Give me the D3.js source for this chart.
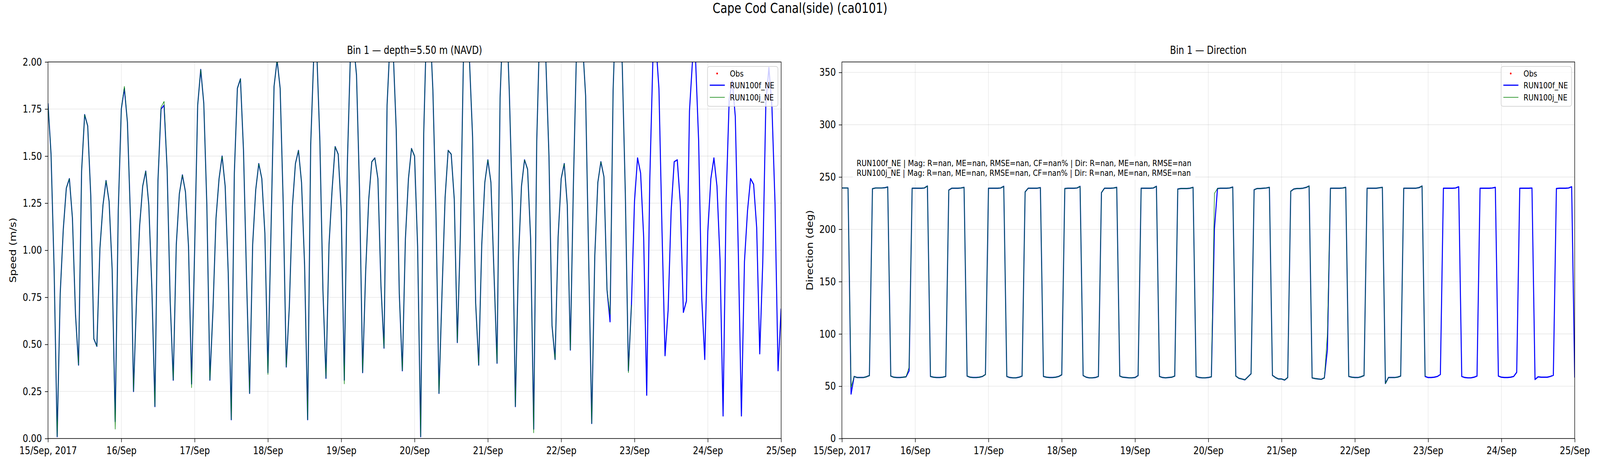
<!DOCTYPE html>
<html>
<head>
<meta charset="utf-8">
<script src="https://cdn.jsdelivr.net/npm/d3@7"></script>
<style>
html, body { margin: 0; padding: 0; width: 100%; height: 100%; overflow: hidden; background: #fff; }
svg { display: block; }
</style>
</head>
<body>
<script>
var figTitle = "Cape Cod Canal(side) (ca0101)";
var startTime = Date.UTC(2017, 8, 15, 0); // hourly series from here

var dayLabels = ["15/Sep, 2017", "16/Sep", "17/Sep", "18/Sep", "19/Sep", "20/Sep",
    "21/Sep", "22/Sep", "23/Sep", "24/Sep", "25/Sep"];
var speedTicks = [0, 0.25, 0.5, 0.75, 1, 1.25, 1.5, 1.75, 2];
var dirTicks = [0, 50, 100, 150, 200, 250, 300, 350];
var legendNames = ["Obs", "RUN100f_NE", "RUN100j_NE"];
var statLines = [
    "RUN100f_NE | Mag: R=nan, ME=nan, RMSE=nan, CF=nan% | Dir: R=nan, ME=nan, RMSE=nan",
    "RUN100j_NE | Mag: R=nan, ME=nan, RMSE=nan, CF=nan% | Dir: R=nan, ME=nan, RMSE=nan"
];

// speed (m/s), one row per day
var speedF = [
    1.78, 1.51, 0.90, 0.01, 0.77, 1.11, 1.33, 1.38, 1.17, 0.66, 0.39, 1.42, 1.72, 1.66, 1.29, 0.53, 0.49, 1.01, 1.24, 1.37, 1.26, 0.90, 0.09, 1.21,
    1.75, 1.86, 1.68, 1.17, 0.25, 0.75, 1.13, 1.34, 1.42, 1.24, 0.80, 0.17, 1.37, 1.75, 1.77, 1.43, 0.73, 0.31, 1.03, 1.30, 1.40, 1.31, 1.02, 0.29,
    1.00, 1.77, 1.96, 1.78, 1.24, 0.31, 0.68, 1.17, 1.38, 1.50, 1.34, 0.88, 0.10, 1.41, 1.86, 1.91, 1.53, 0.85, 0.24, 1.03, 1.32, 1.46, 1.38, 1.09,
    0.35, 1.10, 1.87, 2.01, 1.86, 1.25, 0.38, 0.70, 1.23, 1.46, 1.53, 1.36, 0.92, 0.10, 1.56, 2.03, 2.05, 1.58, 0.79, 0.32, 1.03, 1.32, 1.55, 1.51,
    1.21, 0.31, 1.46, 2.04, 2.10, 1.93, 1.31, 0.35, 0.89, 1.27, 1.47, 1.49, 1.38, 0.81, 0.48, 1.77, 2.12, 2.06, 1.64, 0.77, 0.36, 1.06, 1.38, 1.54,
    1.50, 1.02, 0.01, 1.62, 2.25, 2.22, 1.85, 1.20, 0.24, 0.78, 1.28, 1.53, 1.51, 1.27, 0.51, 1.08, 2.02, 2.20, 2.00, 1.60, 0.72, 0.39, 1.03, 1.36,
    1.48, 1.36, 0.88, 0.40, 1.81, 2.25, 2.30, 1.85, 1.25, 0.17, 0.94, 1.34, 1.48, 1.43, 1.06, 0.05, 1.58, 2.20, 2.25, 2.00, 1.50, 0.60, 0.42, 1.07,
    1.38, 1.46, 1.24, 0.47, 1.35, 2.05, 2.30, 2.10, 1.82, 0.95, 0.08, 0.97, 1.36, 1.47, 1.39, 0.79, 0.62, 1.85, 2.35, 2.30, 1.98, 1.30, 0.36, 0.71,
    1.26, 1.49, 1.41, 1.07, 0.23, 1.37, 2.00, 2.10, 1.86, 1.11, 0.44, 0.68, 1.21, 1.47, 1.48, 1.25, 0.67, 0.73, 1.74, 2.01, 2.01, 1.58, 0.75, 0.42,
    1.10, 1.38, 1.49, 1.34, 0.95, 0.12, 1.27, 1.80, 1.90, 1.71, 0.98, 0.12, 0.94, 1.21, 1.38, 1.35, 1.12, 0.45, 0.94, 1.78, 1.97, 1.76, 1.25, 0.36,
    0.69
];
var speedJ = [
    1.78, 1.51, 0.90, 0.01, 0.77, 1.11, 1.33, 1.38, 1.17, 0.66, 0.39, 1.42, 1.72, 1.66, 1.29, 0.53, 0.49, 1.01, 1.24, 1.37, 1.26, 0.90, 0.05, 1.21,
    1.75, 1.87, 1.68, 1.17, 0.25, 0.75, 1.13, 1.34, 1.42, 1.24, 0.80, 0.17, 1.37, 1.76, 1.79, 1.43, 0.73, 0.31, 1.03, 1.30, 1.40, 1.31, 1.02, 0.27,
    1.00, 1.77, 1.96, 1.78, 1.24, 0.31, 0.68, 1.17, 1.38, 1.50, 1.34, 0.88, 0.10, 1.41, 1.86, 1.91, 1.53, 0.85, 0.24, 1.03, 1.32, 1.46, 1.38, 1.09,
    0.34, 1.10, 1.87, 2.01, 1.86, 1.25, 0.38, 0.70, 1.23, 1.46, 1.53, 1.36, 0.92, 0.10, 1.56, 2.03, 2.05, 1.58, 0.79, 0.32, 1.03, 1.32, 1.55, 1.51,
    1.21, 0.29, 1.46, 2.04, 2.10, 1.93, 1.31, 0.35, 0.89, 1.27, 1.47, 1.49, 1.38, 0.81, 0.48, 1.77, 2.12, 2.06, 1.64, 0.77, 0.36, 1.06, 1.38, 1.54,
    1.50, 1.02, 0.01, 1.62, 2.25, 2.22, 1.85, 1.20, 0.24, 0.78, 1.28, 1.53, 1.51, 1.27, 0.51, 1.08, 2.02, 2.20, 2.00, 1.60, 0.72, 0.39, 1.03, 1.36,
    1.48, 1.36, 0.88, 0.40, 1.81, 2.25, 2.30, 1.85, 1.25, 0.17, 0.94, 1.34, 1.48, 1.43, 1.06, 0.03, 1.58, 2.20, 2.25, 2.00, 1.50, 0.60, 0.42, 1.07,
    1.38, 1.46, 1.24, 0.47, 1.35, 2.05, 2.30, 2.10, 1.82, 0.95, 0.08, 0.97, 1.36, 1.47, 1.39, 0.79, 0.66, 1.85, 2.35, 2.30, 1.98, 1.30, 0.35, 0.71
];

// direction (deg), one row per day
var dirF = [
    239.5, 239.5, 239.5, 42.5, 59.3, 58.3, 58.3, 58.3, 59.0, 60.2, 238.8, 239.5, 239.5, 239.5, 239.7, 240.5, 59.7, 58.6, 58.3, 58.3, 58.6, 59.0, 64.7, 239.3,
    239.3, 239.3, 239.3, 239.5, 241.4, 59.3, 58.6, 58.3, 58.3, 58.6, 59.3, 237.5, 239.3, 239.3, 239.3, 239.5, 240.1, 59.7, 58.6, 58.3, 58.3, 58.6, 59.3, 61.2,
    239.3, 239.3, 239.3, 239.3, 239.5, 241.1, 59.3, 58.3, 58.0, 58.0, 58.6, 59.7, 235.7, 239.3, 239.3, 239.3, 239.3, 239.8, 59.3, 58.6, 58.3, 58.3, 58.6, 59.3,
    60.9, 239.0, 239.3, 239.3, 239.3, 239.5, 241.0, 60.2, 58.6, 58.0, 58.0, 58.3, 59.3, 235.0, 239.3, 239.3, 239.3, 239.5, 240.1, 59.7, 58.6, 58.3, 58.0, 58.0,
    58.3, 60.2, 239.3, 239.3, 239.3, 239.3, 239.5, 241.1, 59.3, 58.3, 58.0, 58.3, 58.6, 59.7, 238.5, 239.0, 239.0, 239.0, 239.3, 240.1, 59.3, 58.3, 58.0, 58.0,
    58.3, 59.0, 200.6, 239.0, 239.3, 239.3, 239.3, 239.5, 240.4, 59.7, 57.6, 56.9, 56.1, 59.0, 61.9, 237.8, 239.0, 239.0, 239.3, 239.5, 240.1, 60.4, 58.3, 56.9,
    56.9, 55.9, 58.3, 236.4, 238.5, 239.0, 239.0, 239.3, 240.0, 241.4, 57.9, 57.3, 56.9, 56.6, 57.9, 85.0, 239.3, 239.3, 239.3, 239.3, 239.5, 240.1, 59.3, 58.6,
    58.3, 58.3, 59.0, 60.2, 239.3, 239.3, 239.3, 239.3, 239.7, 240.1, 52.6, 58.3, 58.3, 58.3, 58.7, 59.7, 239.3, 239.3, 239.3, 239.3, 239.3, 239.8, 241.4, 59.3,
    58.3, 58.3, 58.6, 59.3, 61.2, 239.3, 239.3, 239.3, 239.3, 239.5, 240.7, 59.3, 58.3, 58.0, 58.0, 58.6, 59.7, 239.3, 239.3, 239.3, 239.3, 239.5, 240.1, 59.7,
    58.6, 58.3, 58.3, 58.6, 59.3, 63.3, 239.3, 239.3, 239.3, 239.3, 239.5, 56.4, 59.0, 58.6, 58.6, 58.6, 59.3, 60.4, 239.0, 239.3, 239.3, 239.3, 239.5, 240.7,
    58.3
];
var dirJ = [
    239.5, 239.5, 239.5, 49.0, 59.3, 58.3, 58.3, 58.3, 59.0, 60.2, 238.8, 239.5, 239.5, 239.5, 239.7, 240.5, 59.7, 58.6, 58.3, 58.3, 58.6, 59.0, 68.3, 239.3,
    239.3, 239.3, 239.3, 239.5, 241.4, 59.3, 58.6, 58.3, 58.3, 58.6, 59.3, 237.5, 239.3, 239.3, 239.3, 239.5, 240.1, 59.7, 58.6, 58.3, 58.3, 58.6, 59.3, 61.2,
    239.3, 239.3, 239.3, 239.3, 239.5, 241.1, 59.3, 58.3, 58.0, 58.0, 58.6, 59.7, 235.7, 239.3, 239.3, 239.3, 239.3, 239.8, 59.3, 58.6, 58.3, 58.3, 58.6, 59.3,
    60.9, 239.0, 239.3, 239.3, 239.3, 239.5, 241.0, 60.2, 58.6, 58.0, 58.0, 58.3, 59.3, 235.0, 239.3, 239.3, 239.3, 239.5, 240.1, 59.7, 58.6, 58.3, 58.0, 58.0,
    58.3, 60.2, 239.3, 239.3, 239.3, 239.3, 239.5, 241.1, 59.3, 58.3, 58.0, 58.3, 58.6, 59.7, 238.5, 239.0, 239.0, 239.0, 239.3, 240.1, 59.3, 58.3, 58.0, 58.0,
    58.3, 59.0, 234.3, 239.0, 239.3, 239.3, 239.3, 239.5, 240.4, 59.7, 57.6, 56.9, 56.1, 59.0, 61.9, 237.8, 239.0, 239.0, 239.3, 239.5, 240.1, 60.4, 58.3, 56.9,
    56.9, 55.9, 58.3, 236.4, 238.5, 239.0, 239.0, 239.3, 240.0, 241.4, 57.9, 57.3, 56.9, 56.6, 57.9, 100.0, 239.3, 239.3, 239.3, 239.3, 239.5, 240.1, 59.3, 58.6,
    58.3, 58.3, 59.0, 60.2, 239.3, 239.3, 239.3, 239.3, 239.7, 240.1, 52.6, 58.3, 58.3, 58.3, 58.7, 59.7, 239.3, 239.3, 239.3, 239.3, 239.3, 239.8, 241.4, 59.3
];

var width = 5000,
    height = 1200,
    plotTop = 158.5,
    plotBottom = 1122;

var days = dayLabels.map(function (d, i) {
    return new Date(startTime + i * 864e5);
});

function hourOf(i) {
    return new Date(startTime + i * 36e5);
}

// drawn in a 5000x1200 frame, stretched to whatever the window is
var svg = d3.select("body")
    .append("svg")
    .attr("viewBox", "0 0 " + width + " " + height)
    .attr("preserveAspectRatio", "none")
    .style("width", "100vw")
    .style("height", "100vh")
    .style("font-family", "'DejaVu Sans', sans-serif");

svg.append("rect")
    .attr("width", width)
    .attr("height", height)
    .attr("fill", "white");

svg.append("text")
    .attr("x", width / 2)
    .attr("y", 33)
    .attr("text-anchor", "middle")
    .style("font-size", "35px")
    .text(figTitle);

function drawPanel(p) {
    var x = d3.scaleUtc()
        .domain([days[0], days[days.length - 1]])
        .range([p.left, p.right]);
    var y = d3.scaleLinear()
        .domain(p.domain)
        .range([plotBottom, plotTop]);

    var g = svg.append("g");

    g.append("clipPath")
        .attr("id", p.id)
        .append("rect")
        .attr("x", p.left)
        .attr("y", plotTop)
        .attr("width", p.right - p.left)
        .attr("height", plotBottom - plotTop);

    // grid
    g.append("g").selectAll("line")
        .data(days.slice(1, -1))
        .enter().append("line")
        .attr("x1", x).attr("x2", x)
        .attr("y1", plotTop).attr("y2", plotBottom);
    g.append("g").selectAll("line")
        .data(p.ticks.slice(1))
        .enter().append("line")
        .attr("x1", p.left).attr("x2", p.right)
        .attr("y1", y).attr("y2", y);
    g.selectAll("line")
        .attr("stroke", "#b0b0b0")
        .attr("stroke-opacity", 0.3)
        .attr("stroke-width", 1.6);

    var line = d3.line()
        .x(function (d, i) { return x(hourOf(i)); })
        .y(function (d) { return y(d); });

    var lines = g.append("g").attr("clip-path", "url(#" + p.id + ")");
    lines.append("path")
        .datum(p.seriesF)
        .attr("d", line)
        .attr("fill", "none")
        .attr("stroke", "blue")
        .attr("stroke-width", 3.2)
        .attr("stroke-linejoin", "round");
    lines.append("path")
        .datum(p.seriesJ)
        .attr("d", line)
        .attr("fill", "none")
        .attr("stroke", "green")
        .attr("stroke-width", 1.6)
        .attr("stroke-linejoin", "round");

    var xAxis = g.append("g")
        .attr("transform", "translate(0," + plotBottom + ")")
        .call(d3.axisBottom(x)
            .tickValues(days)
            .tickFormat(function (d, i) { return dayLabels[i]; })
            .tickSizeInner(9.6)
            .tickSizeOuter(0)
            .tickPadding(11));
    var yAxis = g.append("g")
        .attr("transform", "translate(" + p.left + ",0)")
        .call(d3.axisLeft(y)
            .tickValues(p.ticks)
            .tickFormat(p.format)
            .tickSizeInner(9.6)
            .tickSizeOuter(0)
            .tickPadding(9.4));

    [xAxis, yAxis].forEach(function (a) {
        a.select(".domain").remove();
        a.selectAll("line").attr("stroke", "black").attr("stroke-width", 1.6);
        a.selectAll("text")
            .attr("fill", "black")
            .style("font-family", "'DejaVu Sans', sans-serif")
            .style("font-size", "27px");
    });

    g.append("rect")
        .attr("x", p.left)
        .attr("y", plotTop)
        .attr("width", p.right - p.left)
        .attr("height", plotBottom - plotTop)
        .attr("fill", "none")
        .attr("stroke", "black")
        .attr("stroke-width", 1.6);

    g.append("text")
        .attr("x", (p.left + p.right) / 2)
        .attr("y", 138)
        .attr("text-anchor", "middle")
        .style("font-size", "27.5px")
        .text(p.title);

    g.append("text")
        .attr("transform", "translate(" + p.labelX + "," + (plotTop + plotBottom) / 2 + ") rotate(-90)")
        .attr("text-anchor", "middle")
        .attr("dy", "0.35em")
        .style("font-size", "27.5px")
        .text(p.label);

    // legend
    var lx = p.right - 230,
        rows = [188, 218, 249];
    var leg = g.append("g");
    leg.append("rect")
        .attr("x", lx)
        .attr("y", 170)
        .attr("width", 220)
        .attr("height", 102)
        .attr("rx", 6)
        .attr("fill", "white")
        .attr("fill-opacity", 0.8)
        .attr("stroke", "#cccccc")
        .attr("stroke-width", 1.6);
    leg.append("circle")
        .attr("cx", lx + 30)
        .attr("cy", rows[0])
        .attr("r", 2.6)
        .attr("fill", "red");
    leg.append("line")
        .attr("x1", lx + 7).attr("x2", lx + 54)
        .attr("y1", rows[1]).attr("y2", rows[1])
        .attr("stroke", "blue")
        .attr("stroke-width", 3.2);
    leg.append("line")
        .attr("x1", lx + 7).attr("x2", lx + 54)
        .attr("y1", rows[2]).attr("y2", rows[2])
        .attr("stroke", "green")
        .attr("stroke-width", 1.6);
    leg.selectAll("text")
        .data(legendNames)
        .enter().append("text")
        .attr("x", lx + 70)
        .attr("y", function (d, i) { return rows[i] + 8; })
        .style("font-size", "22px")
        .text(function (d) { return d; });

    return g;
}

drawPanel({
    id: "clipSpeed",
    left: 150,
    right: 2441,
    domain: [0, 2],
    ticks: speedTicks,
    format: d3.format(".2f"),
    title: "Bin 1 \u2014 depth=5.50 m (NAVD)",
    label: "Speed (m/s)",
    labelX: 41,
    seriesF: speedF,
    seriesJ: speedJ
});

var dirPanel = drawPanel({
    id: "clipDir",
    left: 2631,
    right: 4921,
    domain: [0, 360],
    ticks: dirTicks,
    format: d3.format("d"),
    title: "Bin 1 \u2014 Direction",
    label: "Direction (deg)",
    labelX: 2531,
    seriesF: dirF,
    seriesJ: dirJ
});

// stats box
var statBox = dirPanel.append("rect")
    .attr("fill", "white")
    .attr("fill-opacity", 0.8);
var stats = dirPanel.selectAll(".stat")
    .data(statLines)
    .enter().append("text")
    .attr("class", "stat")
    .attr("x", 2677)
    .attr("y", function (d, i) { return 425 + i * 25; })
    .style("font-size", "22px")
    .text(function (d) { return d; });
var statW = d3.max(stats.nodes(), function (n) { return n.getComputedTextLength(); });
statBox
    .attr("x", 2665)
    .attr("y", 400)
    .attr("width", statW + 24)
    .attr("height", 60);
</script>
</body>
</html>
